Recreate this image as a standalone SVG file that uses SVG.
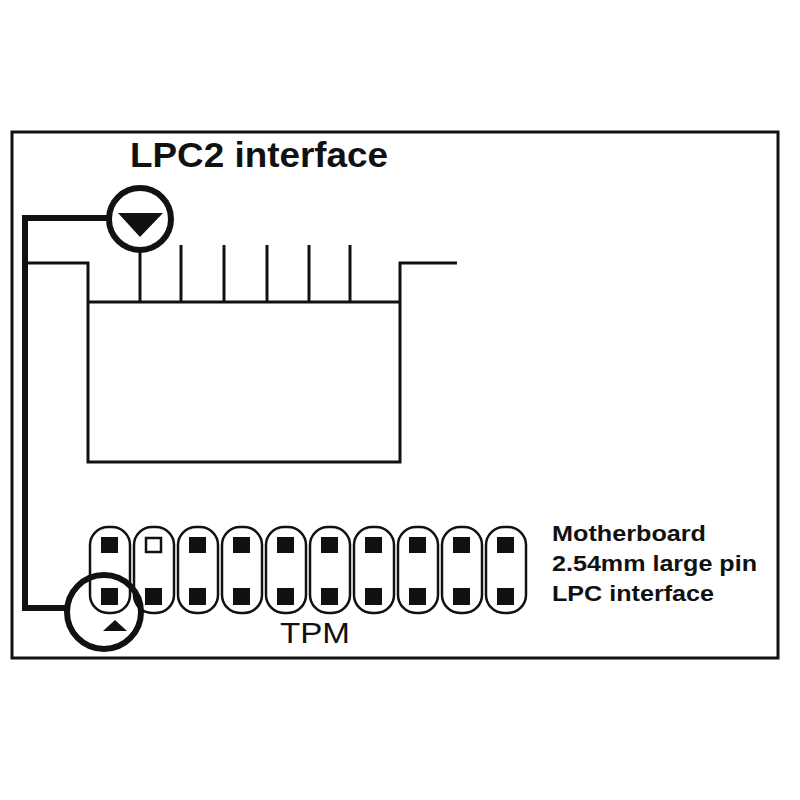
<svg xmlns="http://www.w3.org/2000/svg" width="800" height="800" viewBox="0 0 800 800">
<style>
.t{stroke:#111;stroke-width:3;fill:none}
.k{stroke:#111;stroke-width:6;fill:none}
.pill{fill:#fff;stroke:#111;stroke-width:2.5}
.sq{fill:#111}
.b{font-family:"Liberation Sans",Arial,sans-serif;font-weight:bold;fill:#111}
</style>
<rect width="800" height="800" fill="#fff"/>
<rect x="12" y="132" width="766" height="526" class="t"/>
<g id="lpc2-header">
<path class="t" d="M25 263H88V462H400V263H457M88 302H400"/>
<path class="t" d="M140 251V302M181 245V302M224 245V302M267 245V302M309 245V302M350 245V302"/>
</g>
<g id="connectors">
<path class="k" d="M108 218H25V608H66"/>
</g>
<g id="top-marker">
<circle cx="140" cy="219" r="31" class="k" fill="#fff"/>
<polygon points="118,213 163,213 140,237" fill="#111"/>
</g>
<g id="pins">
<g id="pill-row">
<rect x="90" y="527" width="40" height="86" rx="18" class="pill"/>
<rect x="134" y="527" width="40" height="86" rx="18" class="pill"/>
<rect x="178" y="527" width="40" height="86" rx="18" class="pill"/>
<rect x="222" y="527" width="40" height="86" rx="18" class="pill"/>
<rect x="266" y="527" width="40" height="86" rx="18" class="pill"/>
<rect x="310" y="527" width="40" height="86" rx="18" class="pill"/>
<rect x="354" y="527" width="40" height="86" rx="18" class="pill"/>
<rect x="398" y="527" width="40" height="86" rx="18" class="pill"/>
<rect x="442" y="527" width="40" height="86" rx="18" class="pill"/>
<rect x="486" y="527" width="40" height="86" rx="18" class="pill"/>
</g>
<rect x="101" y="537" width="17" height="16" class="sq"/>
<rect x="146" y="538" width="15" height="14" fill="#fff" stroke="#111" stroke-width="2.5"/>
<rect x="189" y="537" width="17" height="16" class="sq"/>
<rect x="233" y="537" width="17" height="16" class="sq"/>
<rect x="277" y="537" width="17" height="16" class="sq"/>
<rect x="321" y="537" width="17" height="16" class="sq"/>
<rect x="365" y="537" width="17" height="16" class="sq"/>
<rect x="409" y="537" width="17" height="16" class="sq"/>
<rect x="453" y="537" width="17" height="16" class="sq"/>
<rect x="497" y="537" width="17" height="16" class="sq"/>
<rect x="101" y="588" width="17" height="17" class="sq"/>
<rect x="145" y="588" width="17" height="17" class="sq"/>
<rect x="189" y="588" width="17" height="17" class="sq"/>
<rect x="233" y="588" width="17" height="17" class="sq"/>
<rect x="277" y="588" width="17" height="17" class="sq"/>
<rect x="321" y="588" width="17" height="17" class="sq"/>
<rect x="365" y="588" width="17" height="17" class="sq"/>
<rect x="409" y="588" width="17" height="17" class="sq"/>
<rect x="453" y="588" width="17" height="17" class="sq"/>
<rect x="497" y="588" width="17" height="17" class="sq"/>
</g>
<g id="bottom-marker">
<circle cx="104" cy="612" r="37" class="k"/>
<polygon points="103,631 127,631 115,620" fill="#111"/>
</g>
<text x="130" y="167" class="b" font-size="35" textLength="258" lengthAdjust="spacingAndGlyphs">LPC2 interface</text>
<text x="552" y="541" class="b" font-size="22.5" textLength="154" lengthAdjust="spacingAndGlyphs">Motherboard</text>
<text x="552" y="571" class="b" font-size="22.5" textLength="205" lengthAdjust="spacingAndGlyphs">2.54mm large pin</text>
<text x="552" y="601" class="b" font-size="22.5" textLength="162" lengthAdjust="spacingAndGlyphs">LPC interface</text>
<text x="280" y="643" font-family="'Liberation Sans',Arial,sans-serif" font-size="30" fill="#111" textLength="70" lengthAdjust="spacingAndGlyphs">TPM</text>
</svg>
